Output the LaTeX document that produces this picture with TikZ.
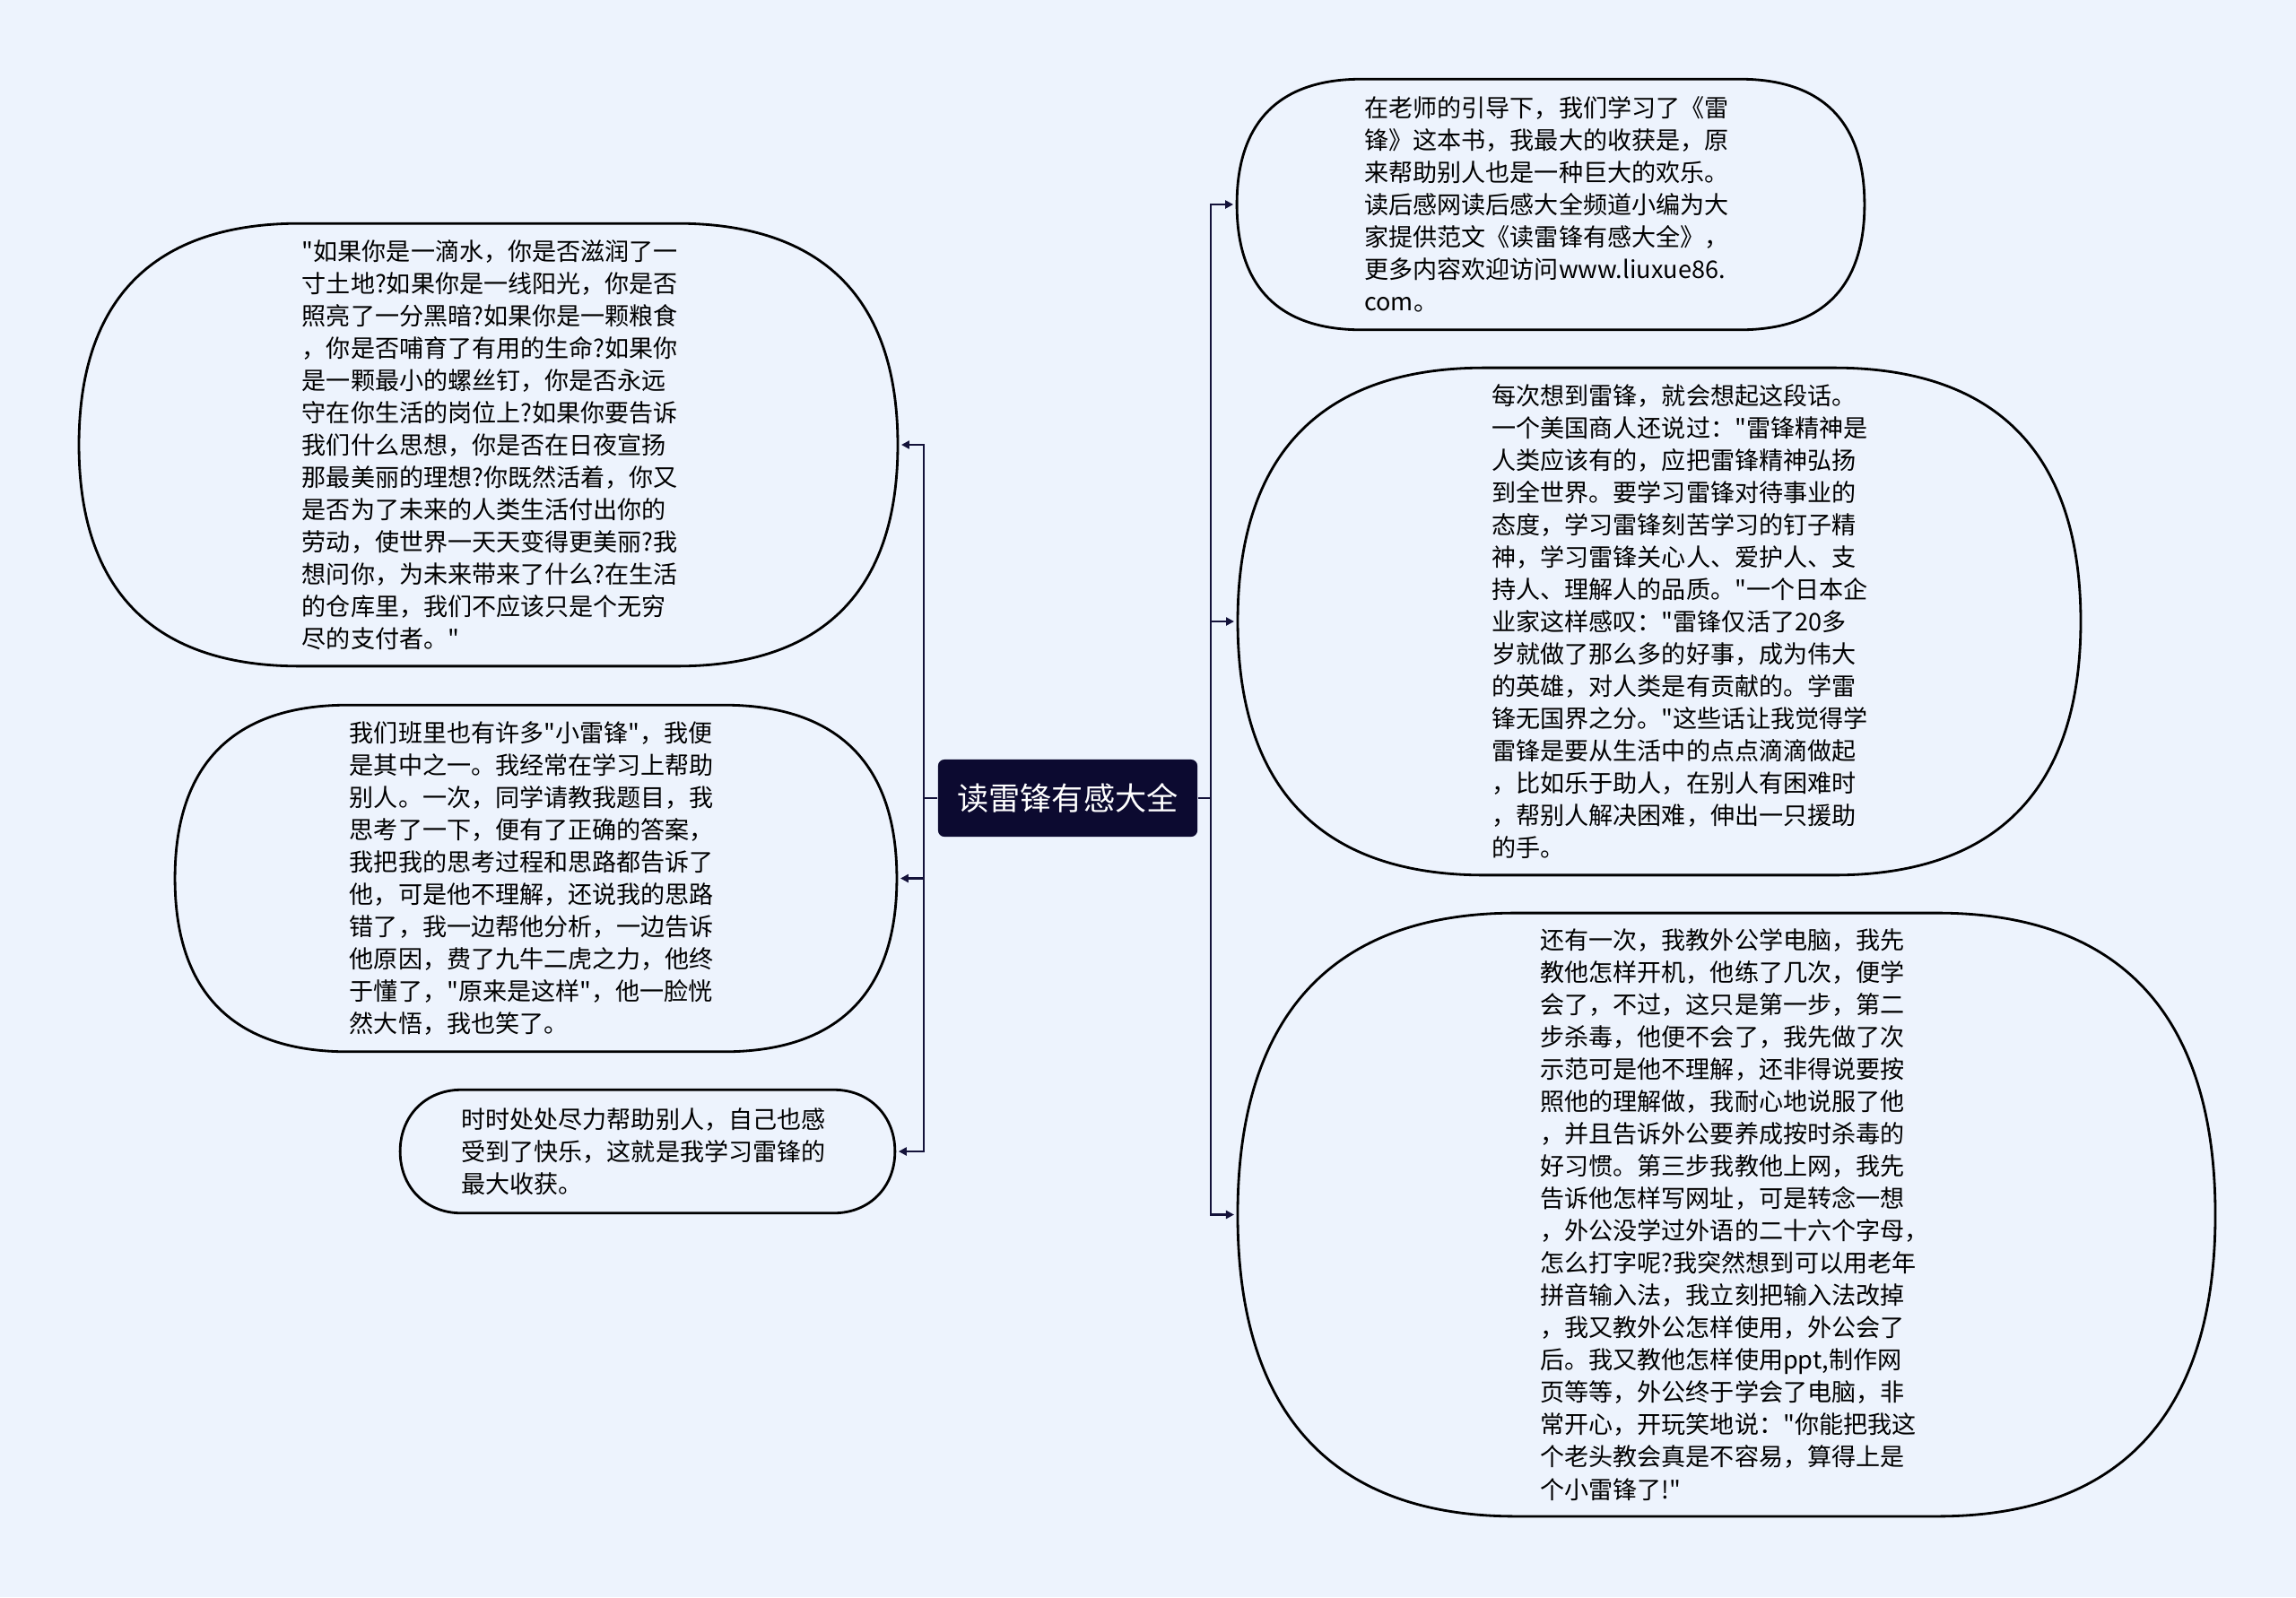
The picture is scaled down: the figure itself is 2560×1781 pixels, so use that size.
\documentclass[tikz,border=0pt]{standalone}
\usepackage{fontspec}
\newfontfamily\cjk{Noto Sans CJK SC}
\usetikzlibrary{arrows.meta,calc}
\definecolor{paper}{RGB}{237,243,253}
\definecolor{navy}{RGB}{12,10,48}
\definecolor{wire}{RGB}{20,18,58}

\tikzset{
  note/.style={font=\cjk\fontsize{7.7pt}{10.24pt}\selectfont, align=left,
    text width=4.15cm, inner sep=0pt},
  link/.style={draw=wire, line width=0.65pt,
    -{Triangle[length=0.09cm,width=0.09cm]}, shorten >=0.04cm},
  trunk/.style={draw=wire, line width=0.65pt},
  rim/.style={draw=black, line width=0.8pt}
}

% outline of a bubble round node #2, corner length #3, tension #1
\newcommand{\bubble}[3][0.66]{%
  \draw[rim] (#2.west)
    .. controls ($(#2.west)!#1!(#2.north west)$) and ([xshift={(1-#1)*#3}]#2.north west) .. ([xshift=#3]#2.north west)
    -- ([xshift=-#3]#2.north east)
    .. controls ([xshift={-(1-#1)*#3}]#2.north east) and ($(#2.east)!#1!(#2.north east)$) .. (#2.east)
    .. controls ($(#2.east)!#1!(#2.south east)$) and ([xshift={-(1-#1)*#3}]#2.south east) .. ([xshift=-#3]#2.south east)
    -- ([xshift=#3]#2.south west)
    .. controls ([xshift={(1-#1)*#3}]#2.south west) and ($(#2.west)!#1!(#2.south west)$) .. cycle;}

\begin{document}
\begin{tikzpicture}[x=0.01cm, y=-0.01cm]
  \fill[paper] (0,0) rectangle (2560,1781);

  % Title
  \node[fill=navy, rounded corners=0.07cm, minimum width=2.89cm, minimum height=0.86cm,
        text=white, font=\cjk\fontsize{10pt}{12pt}\selectfont] (title) at (1190.5,890) {读雷锋有感大全};

  % Left side
  \node[note, minimum width=9.11cm, minimum height=4.92cm] (poem) at (544.5,496) {"如果你是一滴水，你是否滋润了一\\
寸土地?如果你是一线阳光，你是否\\
照亮了一分黑暗?如果你是一颗粮食\\
，你是否哺育了有用的生命?如果你\\
是一颗最小的螺丝钉，你是否永远\\
守在你生活的岗位上?如果你要告诉\\
我们什么思想，你是否在日夜宣扬\\
那最美丽的理想?你既然活着，你又\\
是否为了未来的人类生活付出你的\\
劳动，使世界一天天变得更美丽?我\\
想问你，为未来带来了什么?在生活\\
的仓库里，我们不应该只是个无穷\\
尽的支付者。"};
  \node[note, minimum width=8.03cm, minimum height=3.85cm] (classmate) at (597.5,979.5) {我们班里也有许多"小雷锋"，我便\\
是其中之一。我经常在学习上帮助\\
别人。一次，同学请教我题目，我\\
思考了一下，便有了正确的答案，\\
我把我的思考过程和思路都告诉了\\
他，可是他不理解，还说我的思路\\
错了，我一边帮他分析，一边告诉\\
他原因，费了九牛二虎之力，他终\\
于懂了，"原来是这样"，他一脸恍\\
然大悟，我也笑了。};
  \node[note, minimum width=5.5cm, minimum height=1.36cm] (gain) at (722,1284) {时时处处尽力帮助别人，自己也感\\
受到了快乐，这就是我学习雷锋的\\
最大收获。};

  % Right side
  \node[note, minimum width=6.98cm, minimum height=2.78cm] (book) at (1729,228) {在老师的引导下，我们学习了《雷\\
锋》这本书，我最大的收获是，原\\
来帮助别人也是一种巨大的欢乐。\\
读后感网读后感大全频道小编为大\\
家提供范文《读雷锋有感大全》，\\
更多内容欢迎访问www.liuxue86.\\
com。};
  \node[note, text width=3.73cm, minimum width=9.38cm, minimum height=5.64cm] (spirit) at (1850,693) {每次想到雷锋，就会想起这段话。\\
一个美国商人还说过："雷锋精神是\\
人类应该有的，应把雷锋精神弘扬\\
到全世界。要学习雷锋对待事业的\\
态度，学习雷锋刻苦学习的钉子精\\
神，学习雷锋关心人、爱护人、支\\
持人、理解人的品质。"一个日本企\\
业家这样感叹："雷锋仅活了20多\\
岁就做了那么多的好事，成为伟大\\
的英雄，对人类是有贡献的。学雷\\
锋无国界之分。"这些话让我觉得学\\
雷锋是要从生活中的点点滴滴做起\\
，比如乐于助人，在别人有困难时\\
，帮别人解决困难，伸出一只援助\\
的手。};
  \node[note, minimum width=10.88cm, minimum height=6.71cm] (grandpa) at (1925,1354.5) {还有一次，我教外公学电脑，我先\\
教他怎样开机，他练了几次，便学\\
会了，不过，这只是第一步，第二\\
步杀毒，他便不会了，我先做了次\\
示范可是他不理解，还非得说要按\\
照他的理解做，我耐心地说服了他\\
，并且告诉外公要养成按时杀毒的\\
好习惯。第三步我教他上网，我先\\
告诉他怎样写网址，可是转念一想\\
，外公没学过外语的二十六个字母，\\
怎么打字呢?我突然想到可以用老年\\
拼音输入法，我立刻把输入法改掉\\
，我又教外公怎样使用，外公会了\\
后。我又教他怎样使用ppt,制作网\\
页等等，外公终于学会了电脑，非\\
常开心，开玩笑地说："你能把我这\\
个老头教会真是不容易，算得上是\\
个小雷锋了!"};

  % Bubbles
  \bubble{poem}{2.46cm}
  \bubble{classmate}{1.93cm}
  \bubble[0.58]{gain}{0.68cm}
  \bubble{book}{1.39cm}
  \bubble{spirit}{2.75cm}
  \bubble{grandpa}{3.1cm}

  % Connectors
  \coordinate (lfork) at (1030,890);
  \coordinate (rfork) at (1350,890);
  \draw[trunk] (title.west) -- (lfork);
  \draw[trunk] (title.east) -- (rfork);
  \foreach \n in {poem,classmate,gain}
    \draw[link] (lfork) |- (\n.east);
  \foreach \n in {book,spirit,grandpa}
    \draw[link] (rfork) |- (\n.west);
\end{tikzpicture}
\end{document}
